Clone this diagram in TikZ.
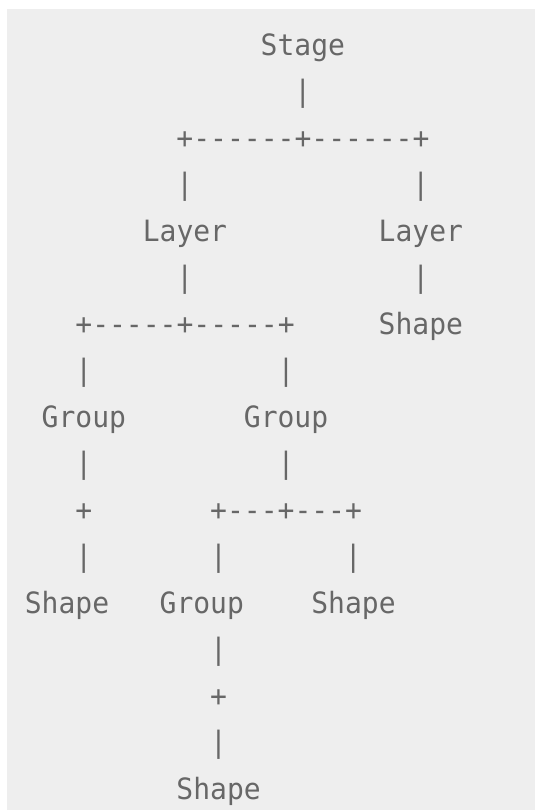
\documentclass[tikz,border=0pt]{standalone}
\usepackage{fontspec}
\newfontfamily\treefont[FakeStretch=0.955]{DejaVu Sans Mono}
\definecolor{treeBg}{HTML}{EEEEEE}
\definecolor{treeInk}{HTML}{676767}
% one grid cell of the text tree: left edge of the first character on the baseline
\tikzset{
  cell/.style={anchor=base west, inner sep=0pt, text=treeInk,
    font={\treefont\fontsize{22}{26}\selectfont}},
}

\begin{document}
\begin{tikzpicture}[x=12.6375pt, y=-34.875pt]
    \useasboundingbox (-24.75pt,41.25pt) rectangle (376.5pt,-566.25pt);
    \fill[treeBg] (-19.5pt,34.5pt) rectangle (376.5pt,-566.25pt);

    % root
    \node[cell] (stage) at (13.5,0) {Stage};
    \node[cell] (stage-bar) at (15.5,1) {|};
    \node[cell] (stage-fork) at (8.5,2) {+------+------+};

    % layers
    \node[cell] (layer1-up) at (8.5,3) {|};
    \node[cell] (layer2-up) at (22.5,3) {|};
    \node[cell] (layer1) at (6.5,4) {Layer};
    \node[cell] (layer2) at (20.5,4) {Layer};
    \node[cell] (layer1-bar) at (8.5,5) {|};
    \node[cell] (layer2-bar) at (22.5,5) {|};
    \node[cell] (layer1-fork) at (2.5,6) {+-----+-----+};
    \node[cell] (shape-a) at (20.5,6) {Shape};

    % groups
    \node[cell] (group1-up) at (2.5,7) {|};
    \node[cell] (group2-up) at (14.5,7) {|};
    \node[cell] (group1) at (0.5,8) {Group};
    \node[cell] (group2) at (12.5,8) {Group};
    \node[cell] (group1-bar) at (2.5,9) {|};
    \node[cell] (group2-bar) at (14.5,9) {|};
    \node[cell] (group1-fork) at (2.5,10) {+};
    \node[cell] (group2-fork) at (10.5,10) {+---+---+};
    \node[cell] (shape-b-up) at (2.5,11) {|};
    \node[cell] (group3-up) at (10.5,11) {|};
    \node[cell] (shape-c-up) at (18.5,11) {|};
    \node[cell] (shape-b) at (-0.5,12) {Shape};
    \node[cell] (group3) at (7.5,12) {Group};
    \node[cell] (shape-c) at (16.5,12) {Shape};

    % nested group
    \node[cell] (group3-bar) at (10.5,13) {|};
    \node[cell] (group3-fork) at (10.5,14) {+};
    \node[cell] (shape-d-up) at (10.5,15) {|};
    \node[cell] (shape-d) at (8.5,16) {Shape};
\end{tikzpicture}
\end{document}
